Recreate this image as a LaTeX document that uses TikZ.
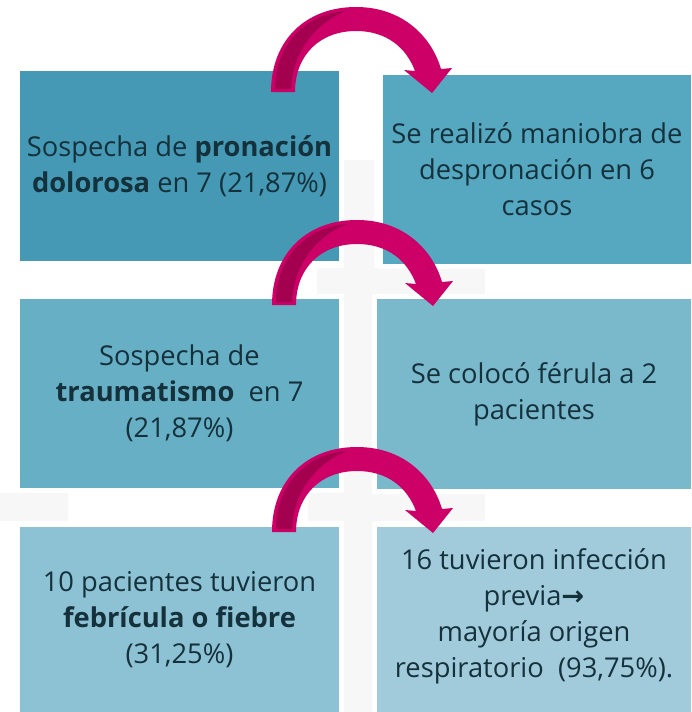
\documentclass[tikz,border=0pt]{standalone}
\usepackage{fontspec}
\setmainfont{Open Sans}
\newfontfamily\flechafont{DejaVu Sans}
\usepackage{tikz}

\definecolor{caja1}{HTML}{4599B4}
\definecolor{caja2}{HTML}{56A7C0}
\definecolor{caja3}{HTML}{67AFC5}
\definecolor{caja4}{HTML}{7AB9CC}
\definecolor{caja5}{HTML}{8DC2D4}
\definecolor{caja6}{HTML}{A1CBDB}
\definecolor{texto}{HTML}{14313C}
\definecolor{fondo}{HTML}{F7F7F7}
\definecolor{rosa}{HTML}{CC0066}
\definecolor{rosaosc}{HTML}{A3004F}

\begin{document}
\begin{tikzpicture}[x=1pt, y=-1pt,
    caja/.style={rectangle, draw=white, line width=5pt, inner sep=0pt,
        align=center, text=texto, font=\fontsize{27.3}{36}\selectfont},
    flecha/.pic={
        \fill[rosa] (-85,0) .. controls (-85,-52) and (-50,-85) .. (0,-85)
            .. controls (45,-85) and (75,-57) .. (85,-23) -- (96,-24) -- (76,1)
            -- (48,-22) -- (59,-21) .. controls (50,-45) and (30,-61) .. (0,-61)
            .. controls (-36,-61) and (-61,-37) .. (-61,0) -- cycle;
        \fill[rosaosc] (-81,-3) .. controls (-81,-48) and (-50,-78) .. (-10,-81)
            .. controls (-32,-73) and (-63,-48) .. (-65,-3) -- cycle;
    }]
    \useasboundingbox (0,0) rectangle (691,712);

    % 背景
    \fill[fondo] (344,160) rectangle (374,712);
    \fill[fondo] (317,268) rectangle (485,294);
    \fill[fondo] (308,493) rectangle (485,521);
    \fill[fondo] (0,493) rectangle (68,521);

    % 方框
    \node[caja, fill=caja1, minimum width=324pt, minimum height=195pt] (pron) at (179.5,166)
        {Sospecha de \textbf{pronación}\\ \textbf{dolorosa} en 7 (21,87\%)};
    \node[caja, fill=caja2, minimum width=313pt, minimum height=194pt] (desp) at (537,169.5)
        {Se realizó maniobra de\\ despronación en 6\\ casos};
    \node[caja, fill=caja3, minimum width=324pt, minimum height=194pt] (trauma) at (179.5,393.5)
        {Sospecha de\\ \textbf{traumatismo}~~en 7\\ (21,87\%)};
    \node[caja, fill=caja4, minimum width=319pt, minimum height=195pt] (ferula) at (534,394)
        {Se colocó férula a 2\\ pacientes};
    \node[caja, fill=caja5, minimum width=324pt, minimum height=190pt] (fiebre) at (179.5,619.5)
        {10 pacientes tuvieron\\ \textbf{febrícula o fiebre}\\ (31,25\%)};
    \node[caja, fill=caja6, minimum width=319pt, minimum height=190pt] (infec) at (534,619.5)
        {16 tuvieron infección\\ previa{\flechafont\bfseries →}\\ mayoría origen\\ respiratorio~~(93,75\%).\\[-24pt]};

    % 箭头
    \coordinate (A1) at (356,92);
    \coordinate (A2) at (357,305);
    \coordinate (A3) at (357,532);
    \pic at (A1) {flecha};
    \pic at (A2) {flecha};
    \pic at (A3) {flecha};
\end{tikzpicture}
\end{document}
